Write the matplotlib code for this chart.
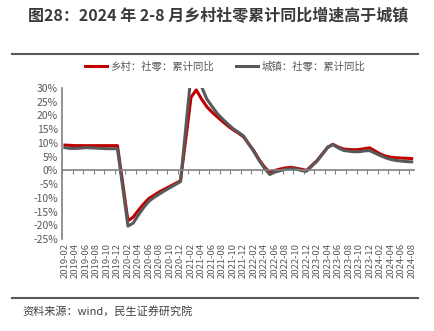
import numpy as np
import pandas as pd
import matplotlib
matplotlib.use('Agg')
import matplotlib.pyplot as plt
from matplotlib.lines import Line2D

plt.rcParams['font.family'] = ['Noto Sans CJK SC', 'DejaVu Sans']

# 累计同比没有1月数据，月份为2019-02 ~ 2024-08（跳过1月）
months = [m for m in pd.period_range('2019-02', '2024-08', freq='M') if m.month != 1]

rural = [9.2, 9.1, 9.0, 9.0, 9.0, 9.0, 9.0, 9.0, 9.0, 9.0, 9.0,
         -18.4, -17.0, -14.5, -12.2, -10.2, -9.0, -7.8, -6.8, -5.8, -4.8, -3.8,
         26.6, 29.3, 26.0, 23.2, 21.2, 19.5, 17.8, 16.2, 14.8, 13.6, 12.2,
         7.0, 3.8, 1.2, -0.8, 0.0, 0.5, 0.9, 1.1, 0.8, 0.4, 0.0,
         3.6, 6.0, 8.3, 9.5, 8.5, 7.8, 7.6, 7.5, 7.6, 7.9, 8.2,
         6.0, 5.2, 4.8, 4.6, 4.5, 4.4, 4.3]
urban = [8.3, 8.0, 8.0, 8.1, 8.3, 8.2, 8.1, 8.0, 7.9, 7.9, 7.9,
         -20.3, -19.2, -16.2, -13.5, -11.2, -9.8, -8.6, -7.4, -6.3, -5.2, -4.1,
         34.9, 34.0, 30.5, 26.0, 23.3, 20.7, 18.7, 16.9, 15.2, 13.9, 12.5,
         6.7, 3.5, 0.7, -1.5, -0.6, -0.1, 0.4, 0.6, 0.5, -0.1, -0.3,
         3.4, 5.8, 8.5, 9.4, 8.2, 7.3, 7.0, 6.8, 6.8, 7.1, 7.2,
         5.4, 4.6, 4.0, 3.6, 3.4, 3.2, 3.1]

labels = [str(p) for p in pd.period_range('2019-02', '2024-08', freq='2M')]
yticks = list(range(-25, 35, 5))

start = pd.Period('2019-02', freq='M')
x = np.array([(m - start).n for m in months]) + 0.5
n_months = (pd.Period('2024-08', freq='M') - start).n + 1

fig = plt.figure(figsize=(4.35, 3.31), dpi=100)
W, H = 435, 331
ax = fig.add_axes([62.3 / W, 1 - 239 / H, 352 / W, 151 / H])

red = '#C00000'
gray = '#595959'
ax.plot(x, rural, color=red, lw=2.2, solid_joinstyle='round', label='乡村：社零：累计同比')
ax.plot(x, urban, color=gray, lw=2.2, solid_joinstyle='round', label='城镇：社零：累计同比')

ax.set_xlim(0, n_months)
ax.set_ylim(-25, 30)
ax.set_yticks(yticks)
ax.set_yticklabels([f'{v}%' for v in yticks], fontsize=7.5, color='#595959')
ax.tick_params(axis='y', length=0, pad=3)

for s in ['top', 'right']:
    ax.spines[s].set_visible(False)
ax.spines['left'].set_color('#808080')
ax.spines['left'].set_linewidth(1.2)
ax.spines['bottom'].set_position(('data', 0))
ax.spines['bottom'].set_color('#808080')
ax.spines['bottom'].set_linewidth(1.2)
ax.set_xticks(np.arange(0, n_months, 2))
ax.tick_params(axis='x', direction='out', length=3, color='#808080', labelbottom=False)

sec = ax.secondary_xaxis('bottom')
sec.set_xticks(np.arange(0, n_months, 2) + 0.5)
sec.set_xticklabels(labels, rotation=90, fontsize=6.8, color='#595959')
sec.tick_params(length=0, pad=3)
sec.spines['bottom'].set_visible(False)

handles = [Line2D([], [], color=red, lw=2.2), Line2D([], [], color=gray, lw=2.2)]
fig.legend(handles, ['乡村：社零：累计同比', '城镇：社零：累计同比'], loc='center',
           bbox_to_anchor=(225 / W, 1 - 66 / H), ncol=2, frameon=False,
           fontsize=7.5, handlelength=2.1, handletextpad=0.3, columnspacing=2.2,
           labelcolor='#595959')

fig.text(218 / W, 1 - 16 / H, '图28：2024 年 2-8 月乡村社零累计同比增速高于城镇',
         ha='center', va='center', fontsize=11.5, fontweight='bold', color='#3a3a3a')
fig.add_artist(Line2D([12 / W, 418 / W], [1 - 54 / H, 1 - 54 / H], color='#595959', lw=1.5))
fig.add_artist(Line2D([12 / W, 418 / W], [1 - 298 / H, 1 - 298 / H], color='#595959', lw=1.5))
fig.text(22 / W, 1 - 311 / H, '资料来源：wind，民生证券研究院', ha='left', va='center',
         fontsize=8, color='#404040')

fig.savefig('out.png', dpi=100)
